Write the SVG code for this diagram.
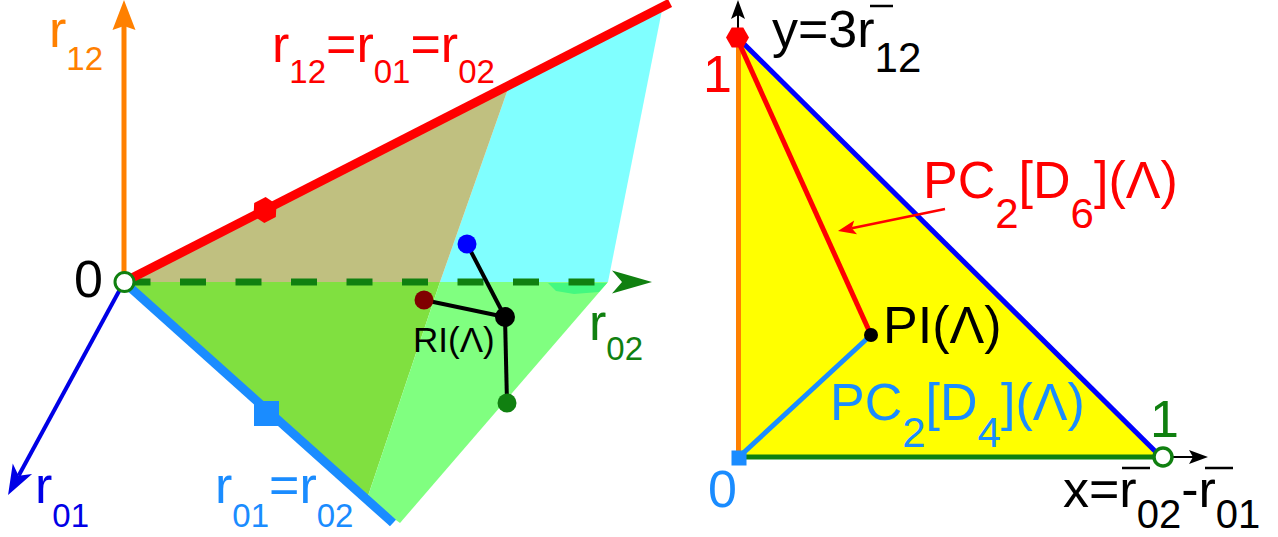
<svg xmlns="http://www.w3.org/2000/svg" width="1278" height="537" viewBox="0 0 1278 537">
<style>
text{font-family:"Liberation Sans",Arial,sans-serif}
.L{font-size:52px}
.s{font-size:33px}
.R{font-size:52px}
.sr{font-size:42px}
.ln{fill:none;stroke-linecap:butt}
</style>
<defs>
<marker id="mOr" markerUnits="userSpaceOnUse" orient="auto" refX="4" refY="0" overflow="visible"><path d="M0,-11.5 L30,0 L0,11.5 L4,0 Z" fill="#ff8000"/></marker>
<marker id="mGr" markerUnits="userSpaceOnUse" orient="auto" refX="10" refY="0" overflow="visible"><path d="M0,-11.5 L40,0 L0,11.5 L10,0 Z" fill="#108010"/></marker>
<marker id="mBl" markerUnits="userSpaceOnUse" orient="auto" refX="8" refY="0" overflow="visible"><path d="M0,-11 L30,0 L0,11 L8,0 Z" fill="#0000e6"/></marker>
<marker id="mBk" markerUnits="userSpaceOnUse" orient="auto" refX="4" refY="0" overflow="visible"><path d="M0,-7 L19,0 L0,7 L4,0 Z" fill="#000"/></marker>
<marker id="mRd" markerUnits="userSpaceOnUse" orient="auto" refX="4" refY="0" overflow="visible"><path d="M0,-7 L18,0 L0,7 L4,0 Z" fill="#ff0000"/></marker>
<polygon id="hex" points="11.5,0 5.75,10 -5.75,10 -11.5,0 -5.75,-10 5.75,-10"/>
</defs>

<g id="left-regions">
<polygon points="509,86 662,10 608,282 440,282" fill="#80ffff"/>
<polygon points="124,282 509,86 440,282" fill="#c0c080"/>
<polygon points="124,282 440,282 367,499" fill="#80e040"/>
<polygon points="440,282 608,282 400,523 367,499" fill="#80ff80"/>
<polygon points="548,283 607,283 599,292 574,294 556,291" fill="#44f880"/>
</g>

<g id="connectors">
<line class="ln" x1="124" y1="282" x2="124" y2="26" stroke="#ff8000" stroke-width="5" marker-end="url(#mOr)"/>
<line class="ln" x1="124.5" y1="282" x2="622" y2="282" stroke="#108010" stroke-width="7" stroke-dasharray="26 29.5" marker-end="url(#mGr)"/>
<line class="ln" x1="124" y1="282" x2="18.6" y2="475.7" stroke="#0000e6" stroke-width="4" marker-end="url(#mBl)"/>
<line class="ln" x1="124" y1="282" x2="670" y2="3" stroke="#ff0000" stroke-width="9"/>
<line class="ln" x1="124" y1="282" x2="393" y2="523" stroke="#1a8cff" stroke-width="9"/>
<g stroke="#000" stroke-width="4" class="ln">
<line x1="505" y1="317" x2="467" y2="244"/>
<line x1="505" y1="317" x2="424" y2="300"/>
<line x1="505" y1="317" x2="507" y2="403"/>
</g>
</g>

<g id="left-markers">
<use href="#hex" transform="translate(265,210) rotate(-27) scale(1.12)" fill="#ff0000"/>
<rect x="254" y="401" width="25" height="25" fill="#1a8cff"/>
<circle cx="124.5" cy="282" r="9.5" fill="#fff" stroke="#108010" stroke-width="3"/>
<circle cx="467" cy="244" r="9.5" fill="#0000ff"/>
<circle cx="424" cy="300" r="9.5" fill="#800000"/>
<circle cx="507" cy="403" r="9.5" fill="#108010"/>
<circle cx="505" cy="317" r="10" fill="#000"/>
</g>

<g id="left-labels">
<text class="L" x="49" y="47" fill="#ff8000">r<tspan class="s" dy="23">12</tspan></text>
<text class="L" x="272" y="62" fill="#ff0000">r<tspan class="s" dy="21">12</tspan><tspan dy="-21">=r</tspan><tspan class="s" dy="21">01</tspan><tspan dy="-21">=r</tspan><tspan class="s" dy="21">02</tspan></text>
<text class="L" x="74" y="297" font-size="54" fill="#000">0</text>
<text x="413" y="352" font-size="35" fill="#000">RI(Λ)</text>
<text class="L" x="589" y="340" fill="#108010">r<tspan class="s" dy="20">02</tspan></text>
<text class="L" x="35" y="503" fill="#0000e6">r<tspan class="s" dy="24">01</tspan></text>
<text class="L" x="215" y="503" fill="#1a8cff">r<tspan class="s" dy="24">01</tspan><tspan dy="-24">=r</tspan><tspan class="s" dy="24">02</tspan></text>
</g>

<g id="right-triangle">
<polygon points="738,40 738,457 1160,457" fill="#ffff00"/>
<line class="ln" x1="738.5" y1="40" x2="738.5" y2="457" stroke="#ff8000" stroke-width="5"/>
<line class="ln" x1="741" y1="41" x2="1161" y2="457" stroke="#0000ff" stroke-width="5"/>
<line class="ln" x1="738" y1="457" x2="1156" y2="457" stroke="#108010" stroke-width="5"/>
<line class="ln" x1="740" y1="45" x2="871" y2="335" stroke="#ff0000" stroke-width="5"/>
<line class="ln" x1="740" y1="456" x2="871" y2="335" stroke="#1a8cff" stroke-width="5"/>
<line class="ln" x1="738" y1="30" x2="738" y2="15" stroke="#000" stroke-width="2" marker-end="url(#mBk)"/>
<line class="ln" x1="1172" y1="457" x2="1193" y2="457" stroke="#000" stroke-width="2" marker-end="url(#mBk)"/>
<line class="ln" x1="945" y1="209" x2="851.7" y2="228.2" stroke="#ff0000" stroke-width="2.5" marker-end="url(#mRd)"/>
</g>

<g id="right-markers">
<use href="#hex" transform="translate(737.5,37.5)" fill="#ff0000"/>
<rect x="731.5" y="450.5" width="15" height="15" fill="#1a8cff"/>
<circle cx="1163" cy="457" r="9" fill="#fff" stroke="#108010" stroke-width="3.5"/>
<circle cx="871" cy="335" r="7" fill="#000"/>
</g>

<g id="right-labels">
<text class="R" x="772" y="47" fill="#000">y=3r<tspan class="sr" dy="25">12</tspan></text>
<line x1="870" y1="6" x2="893" y2="6" stroke="#000" stroke-width="2.5"/>
<text class="R" x="703" y="92" fill="#ff0000">1</text>
<text class="R" x="923" y="198" fill="#ff0000">PC<tspan class="sr" dy="30">2</tspan><tspan dy="-30">[D</tspan><tspan class="sr" dy="30">6</tspan><tspan dy="-30">](Λ)</tspan></text>
<text class="R" x="883" y="343" fill="#000">PI(Λ)</text>
<text class="R" x="830" y="420" fill="#1a8cff">PC<tspan class="sr" dy="27">2</tspan><tspan dy="-27">[D</tspan><tspan class="sr" dy="27">4</tspan><tspan dy="-27">](Λ)</tspan></text>
<text class="R" x="1150" y="437" font-size="50" fill="#108010">1</text>
<text class="R" x="708" y="507" font-size="50" fill="#1a8cff">0</text>
<text class="R" x="1063" y="507" fill="#000">x=r<tspan dy="21" font-size="40">02</tspan><tspan dy="-21">-r</tspan><tspan dy="21" font-size="40">01</tspan></text>
<line x1="1122" y1="468" x2="1150" y2="468" stroke="#000" stroke-width="2.5"/>
<line x1="1205" y1="468" x2="1233" y2="468" stroke="#000" stroke-width="2.5"/>
</g>
</svg>
